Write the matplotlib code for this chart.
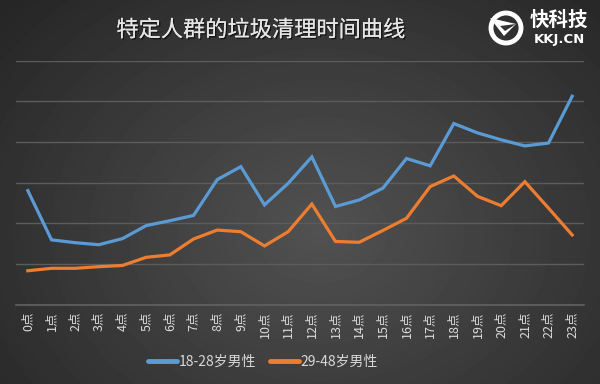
import numpy as np
import matplotlib
matplotlib.use("Agg")
import matplotlib.pyplot as plt
import matplotlib.patheffects as pe
from matplotlib.patches import Circle, Polygon

plt.rcParams['font.family'] = ['Noto Sans CJK SC', 'DejaVu Sans']

# data (arbitrary units, gridline = 1)
hours = [str(h) + "点" for h in range(24)]
young = [2.80, 1.59, 1.52, 1.47, 1.62, 1.94, 2.06, 2.19, 3.07, 3.39, 2.45, 2.98,
         3.63, 2.41, 2.57, 2.86, 3.59, 3.41, 4.45, 4.22, 4.05, 3.90, 3.97, 5.12]
older = [0.83, 0.89, 0.89, 0.93, 0.96, 1.16, 1.22, 1.61, 1.83, 1.79, 1.44, 1.79,
         2.47, 1.55, 1.53, 1.82, 2.12, 2.90, 3.16, 2.66, 2.43, 3.02, 2.37, 1.71]
series_names = ["18-28岁男性", "29-48岁男性"]
title_text = "特定人群的垃圾清理时间曲线"

W, H = 600, 384
fig = plt.figure(figsize=(6, 3.84), dpi=100)

# radial dark gradient background
bg = fig.add_axes([0, 0, 1, 1])
yy, xx = np.mgrid[0:H, 0:W]
r = np.sqrt(((xx - 320) / 420.0) ** 2 + ((yy - 230) / 330.0) ** 2)
shade = 0.32 - 0.17 * np.clip(r, 0, 1)
bg.imshow(shade, cmap='gray', vmin=0, vmax=1, extent=[0, W, H, 0], aspect='auto')
bg.set_xlim(0, W)
bg.set_ylim(H, 0)
bg.axis('off')

ax = fig.add_axes([16 / W, 1 - 304.5 / H, 568 / W, 244 / H])
ax.patch.set_alpha(0)
x = np.arange(len(hours))
ax.plot(x, young, color='#5b9bd5', lw=2.3, label=series_names[0], solid_joinstyle='miter', zorder=3)
ax.plot(x, older, color='#ed7d31', lw=2.3, label=series_names[1], solid_joinstyle='miter', zorder=3)
ax.set_xlim(-0.5, len(hours) - 0.5)
ax.set_ylim(0, 6)
ax.set_yticks(range(7))
ax.yaxis.grid(True, color='#5c5c5c', lw=1)
ax.set_yticklabels([])
ax.tick_params(axis='y', length=0)
ax.set_xticks(x)
ax.set_xticklabels(hours, rotation=90, fontsize=9, color='#dcdcdc')
ax.tick_params(axis='x', length=0, pad=5)
for s in ['top', 'right', 'left']:
    ax.spines[s].set_visible(False)
ax.spines['bottom'].set_color('#626262')
ax.spines['bottom'].set_linewidth(1.2)

leg = fig.legend(loc='center', bbox_to_anchor=(263 / W, 1 - 362 / H), ncol=2,
                 frameon=False, fontsize=10, handlelength=2.1, handletextpad=0.1,
                 columnspacing=1.0)
for t in leg.get_texts():
    t.set_color('#d8d8d8')
for l in leg.get_lines():
    l.set_linewidth(3.5)
    l.set_solid_capstyle('round')

fig.text(261 / W, 1 - 30 / H, title_text, fontsize=16, color='#e6e6e6',
         ha='center', va='center',
         path_effects=[pe.withSimplePatchShadow(offset=(1, -1), shadow_rgbFace='black', alpha=0.6), pe.Normal()])

# logo
bg.add_patch(Circle((506, 28), 15, fill=False, ec='white', lw=3.5))
bg.add_patch(Polygon([[490, 18], [516, 24], [504, 36]], closed=True, fc='white', ec='none'))
bg.add_patch(Polygon([[500, 26], [516, 24], [505, 31]], closed=True, fc='#333333', ec='none'))
fig.text(559 / W, 1 - 20 / H, "快科技", fontsize=14, fontweight='bold', color='white', ha='center', va='center')
fig.text(559 / W, 1 - 39 / H, "KKJ.CN", fontsize=9.5, fontweight='bold', color='white', ha='center', va='center',
         family=['DejaVu Sans'])

fig.savefig('out.png', dpi=100)
